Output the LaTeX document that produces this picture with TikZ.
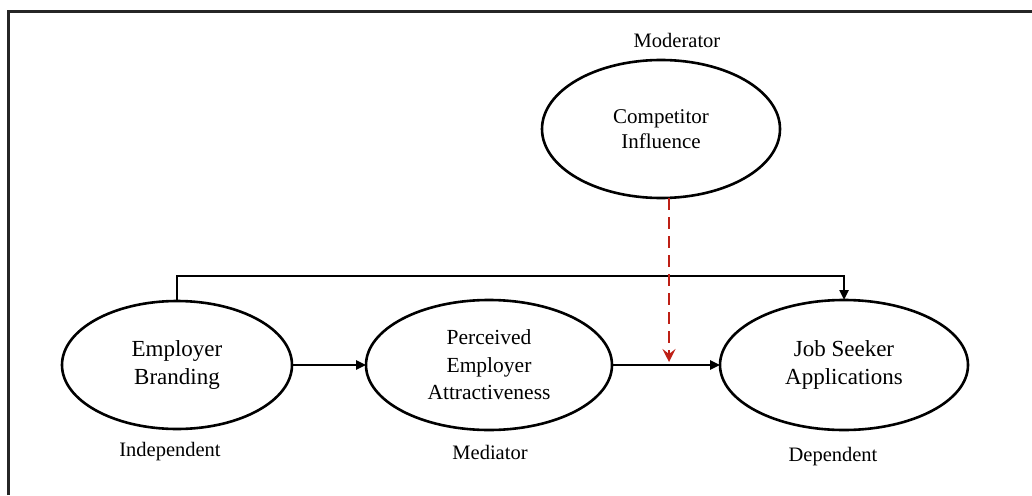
\documentclass[tikz,border=0pt]{standalone}
\usepackage{fontspec}
\setmainfont{Liberation Serif}
\usetikzlibrary{shapes.geometric,arrows.meta}
\definecolor{modred}{RGB}{190,32,22}
\begin{document}
\begin{tikzpicture}[x=1pt,y=-1pt,
  var/.style={draw, ellipse, line width=2.6pt, inner sep=0pt, outer sep=0pt, align=center},
  lbl/.style={font=\fontsize{20.5}{24}\selectfont, inner sep=0pt},
  conn/.style={line width=2.4pt, -{Triangle[length=10pt,width=9pt]}},
  modarrow/.style={line width=2.6pt, modred, dash pattern=on 12pt off 7pt, -{Stealth[length=13pt,width=13pt,inset=5pt]}}]
\useasboundingbox (0,0) rectangle (1032,495);
\draw[line width=2.2pt, black!85] (8.5,495) -- (8.5,11.5) -- (1032,11.5);

\node[var, minimum width=238pt, minimum height=138pt, font=\fontsize{21}{25}\selectfont] (ci) at (661,129) {Competitor\\Influence};
\node[var, minimum width=230pt, minimum height=128pt, font=\fontsize{23}{28}\selectfont] (eb) at (177,365) {Employer\\Branding};
\node[var, minimum width=246pt, minimum height=130pt, font=\fontsize{21.5}{27.5}\selectfont] (pea) at (489,365) {Perceived\\Employer\\Attractiveness};
\node[var, minimum width=248pt, minimum height=130pt, font=\fontsize{23}{27.5}\selectfont] (js) at (844,365) {Job Seeker\\Applications};

\node[lbl] (lmod) at (677,40) {Moderator};
\node[lbl] (lind) at (170,452) {Independent};
\node[lbl] (lmed) at (490,452) {Mediator};
\node[lbl] (ldep) at (833,457) {Dependent};

\coordinate (top) at (0,276);
\coordinate (mx) at (669,362);

\draw[conn] (eb.north) -- (eb.north |- top) -| (js.north);
\draw[conn] (eb.east) -- (pea.west);
\draw[conn] (pea.east) -- (js.west);
\draw[modarrow] (ci.south -| mx) -- (mx);
\end{tikzpicture}
\end{document}
